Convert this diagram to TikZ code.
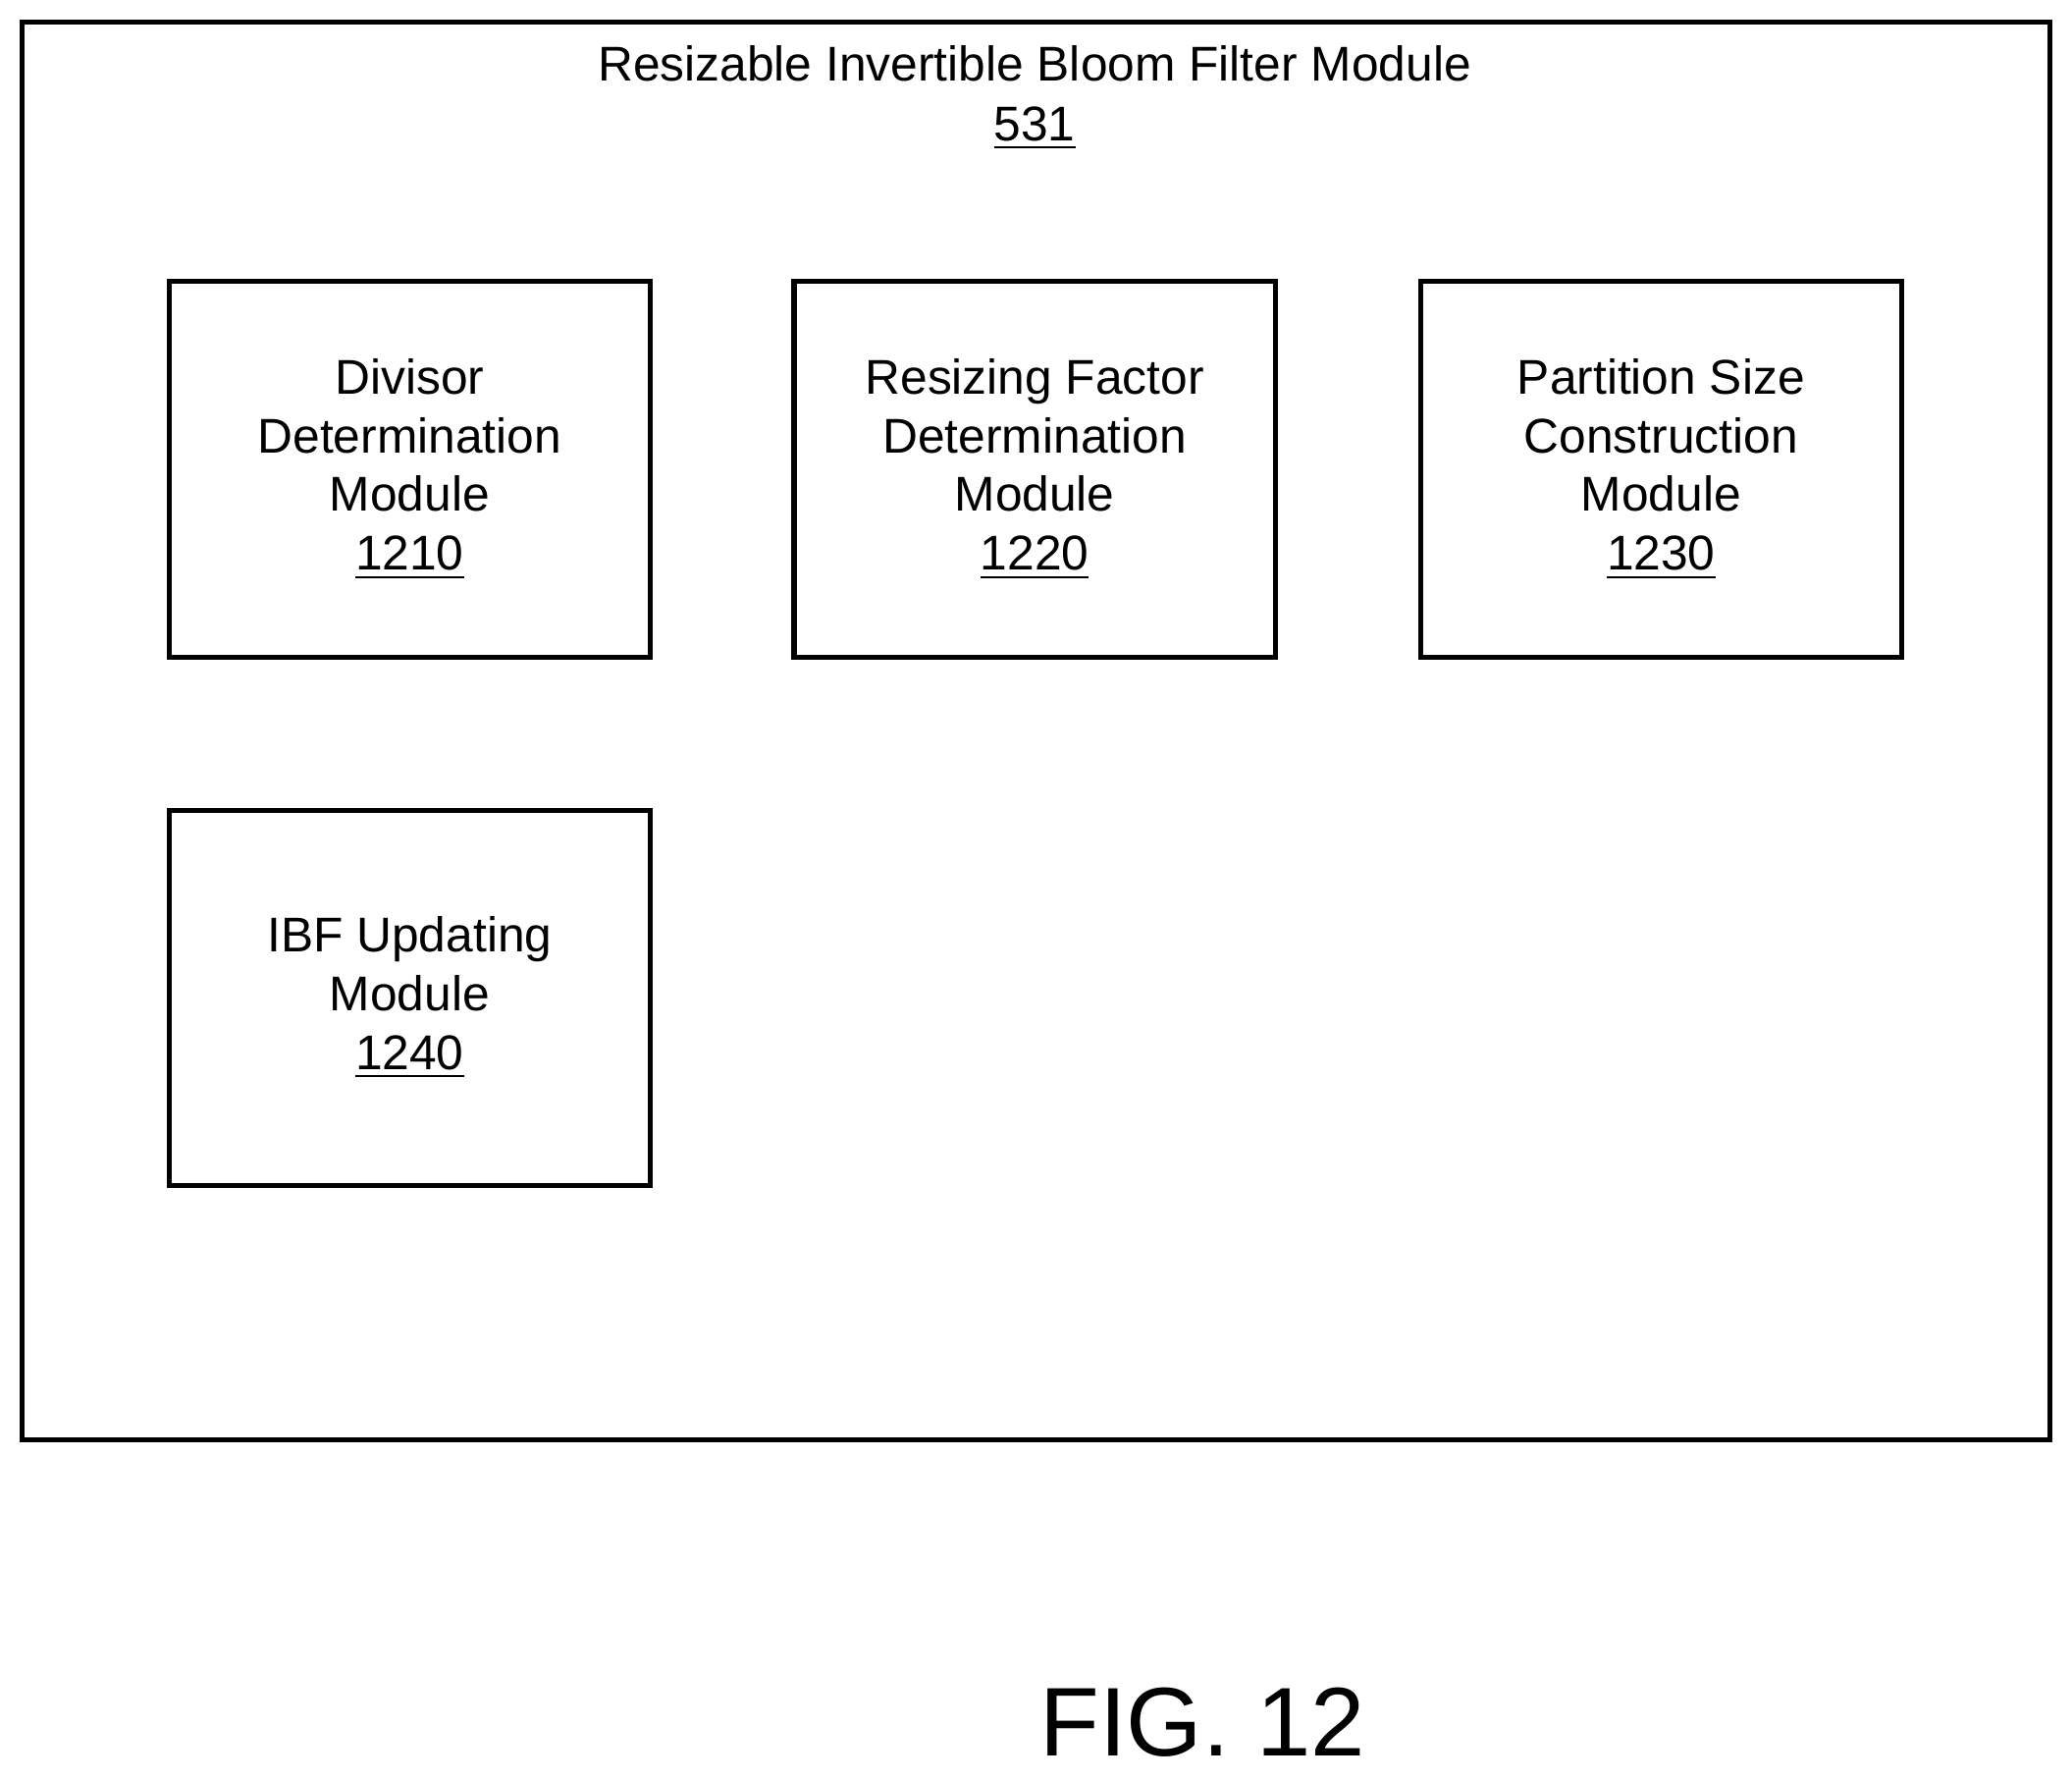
\documentclass[tikz,border=0pt]{standalone}
\usepackage{fontspec}
\setmainfont{Liberation Sans}
\begin{document}
\begin{tikzpicture}[x=0.01cm,y=-0.01cm,
  box/.style={draw,line width=1.1pt,minimum width=3.64cm,minimum height=2.84cm,align=center,font=\fontsize{10.5}{12.6}\selectfont},
  lbl/.style={align=center,font=\fontsize{10.5}{12.9}\selectfont}]
\useasboundingbox (0,0) rectangle (1568,1346);
\draw[line width=1.1pt] (17,17) rectangle (1551,1089);
\node[lbl] (title) at (783,74) {Resizable Invertible Bloom Filter Module\\\underline{531}};
\node[box] (a) at (310,355) {Divisor\\Determination\\Module\\\underline{1210}};
\node[box] (b) at (783,355) {Resizing Factor\\Determination\\Module\\\underline{1220}};
\node[box] (c) at (1257,355) {Partition Size\\Construction\\Module\\\underline{1230}};
\node[box] (d) at (310,755) {IBF Updating\\Module\\\underline{1240}};
\node[font=\fontsize{21}{24}\selectfont] (fig) at (910,1303) {FIG. 12};
\end{tikzpicture}
\end{document}
